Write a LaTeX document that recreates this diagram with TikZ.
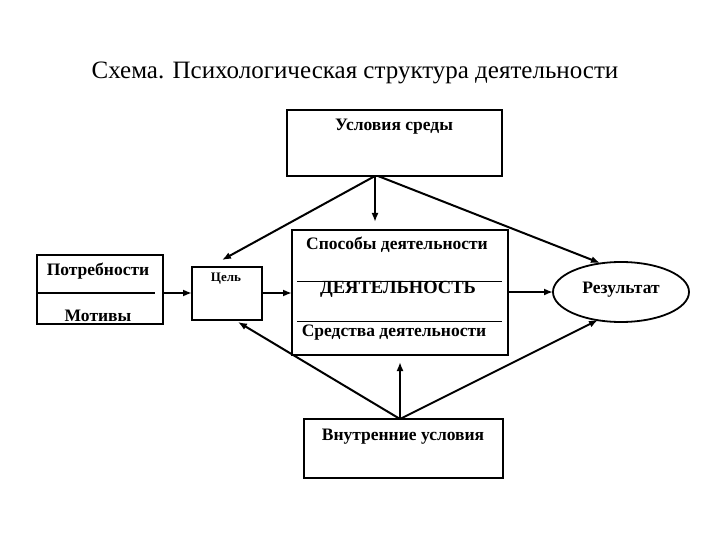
\documentclass[tikz,border=0pt]{standalone}
\usepackage{fontspec}
\setmainfont{Liberation Serif}
\usetikzlibrary{arrows.meta}
\begin{document}
\begin{tikzpicture}[x=1pt,y=-1pt,
  box/.style={draw,line width=1.8pt},
  arr/.style={line width=2pt,-{Latex[length=9pt,width=7pt]}},
  lbl/.style={font=\fontsize{17.5}{20}\selectfont\bfseries,inner sep=0pt}]
\useasboundingbox (0,0) rectangle (720,540);
\node[font=\fontsize{25}{29}\selectfont] (title) at (355,73) {Схема. Психологическая структура деятельности};
\draw[box] (287,110) rectangle (502,176);
\node[lbl] (usl) at (394,127) {Условия среды};
\coordinate (uslb) at (375,176);
\draw[box] (292,230) rectangle (508,355);
\node[lbl] (sposob) at (397,245) {Способы деятельности};
\draw[line width=0.7pt] (297,281) -- (502,281);
\draw[line width=0.7pt] (297,321) -- (502,321);
\node[lbl,font=\fontsize{18.5}{21}\selectfont\bfseries] (deyat) at (398,289) {ДЕЯТЕЛЬНОСТЬ};
\node[lbl] (sredst) at (394,333) {Средства деятельности};
\draw[box] (37,255) rectangle (163,324);
\node[lbl] (potr) at (98,271) {Потребности};
\draw[line width=2.2pt] (37,293) -- (155,293);
\node[lbl] (motiv) at (98,316) {Мотивы};
\draw[box] (192,267) rectangle (262,320);
\node[lbl,font=\fontsize{13}{15}\selectfont\bfseries] (cel) at (226,279) {Цель};
\draw[box] (621,292) ellipse [x radius=68, y radius=30];
\node[lbl] (rez) at (621,290) {Результат};
\draw[box] (304,419) rectangle (503,478);
\node[lbl] (vnutr) at (403,437) {Внутренние условия};
\coordinate (vn) at (400,419);
\draw[arr] (uslb) -- (375,222);
\draw[arr] (uslb) -- (222,260);
\draw[arr] (378,176) -- (600,263);
\draw[arr] (vn) -- (400,362);
\draw[arr] (vn) -- (238,322);
\draw[arr] (vn) -- (598,320);
\draw[arr] (163,293) -- (192,293);
\draw[arr] (262,293) -- (292,293);
\draw[arr] (508,292) -- (553,292);
\end{tikzpicture}
\end{document}
